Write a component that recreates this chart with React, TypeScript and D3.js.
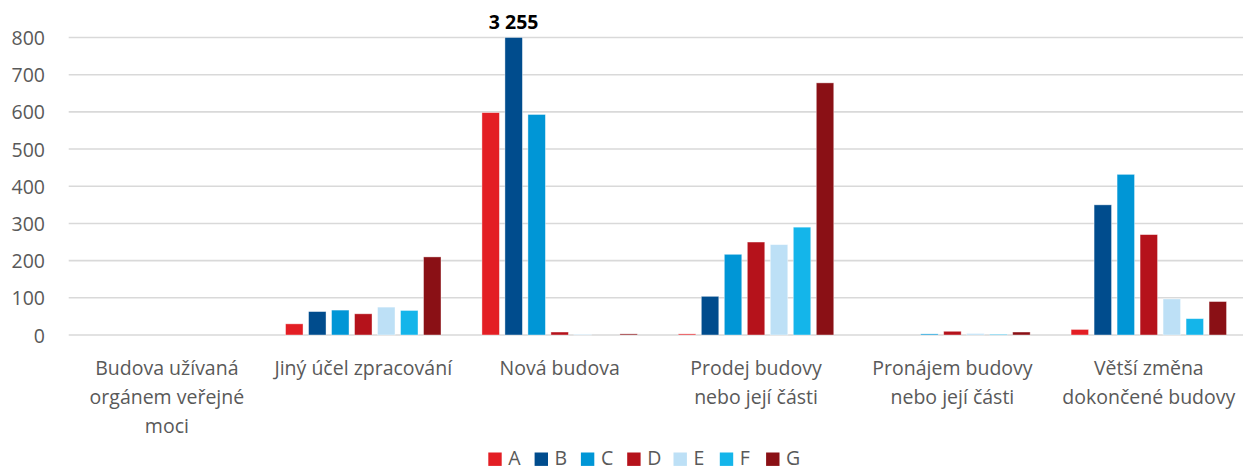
import React from "react";
import * as d3 from "d3";

const categories = [
  "Budova užívaná orgánem veřejné moci",
  "Jiný účel zpracování",
  "Nová budova",
  "Prodej budovy nebo její části",
  "Pronájem budovy nebo její části",
  "Větší změna dokončené budovy",
];
const categoryLines = [
  ["Budova užívaná", "orgánem veřejné", "moci"],
  ["Jiný účel zpracování"],
  ["Nová budova"],
  ["Prodej budovy", "nebo její části"],
  ["Pronájem budovy", "nebo její části"],
  ["Větší změna", "dokončené budovy"],
];
const seriesNames = ["A", "B", "C", "D", "E", "F", "G"];
const seriesColors = ["#E31E24", "#004C8D", "#0096D6", "#B5121B", "#BDE0F6", "#14B5EA", "#8A1015"];
const A = [0, 30, 598, 3, 0, 15];
const B = [0, 63, 3255, 104, 0, 350];
const C = [0, 67, 593, 217, 3, 432];
const D = [0, 57, 8, 250, 10, 270];
const E = [0, 75, 2, 243, 4, 97];
const F = [0, 66, 0, 290, 2, 44];
const G = [0, 210, 3, 678, 8, 90];
const seriesValues = [A, B, C, D, E, F, G];
const yTicks = [0, 100, 200, 300, 400, 500, 600, 700, 800];
const yMax = 800;

const W = 1243;
const H = 466;
const FONT = "'Open Sans', sans-serif";
const TXT = "#595959";

export default function App() {
  const x0 = d3.scaleBand<string>().domain(categories).range([68.7, 1247]).padding(0);
  const x1 = d3
    .scaleBand<string>()
    .domain(seriesNames)
    .range([0, x0.bandwidth()])
    .paddingInner(0.24)
    .paddingOuter(0.89);
  const y = d3.scaleLinear().domain([0, yMax]).range([335, 37.5]);

  const legendStep = 46.3;
  const legendX0 = 488.3;

  return (
    <svg
      width={W}
      height={H}
      style={{ position: "absolute", left: 0, top: 0, background: "#fff" }}
      fontFamily={FONT}
    >
      {yTicks.map((t) => (
        <g key={t}>
          <line x1={68.7} x2={1247} y1={y(t)} y2={y(t)} stroke="#D9D9D9" strokeWidth={1.6} />
          <text x={45} y={y(t)} textAnchor="end" dominantBaseline="central" fontSize={19.5} fill={TXT}>
            {t}
          </text>
        </g>
      ))}
      {categories.map((c, ci) => (
        <g key={c} transform={`translate(${x0(c)},0)`}>
          {seriesNames.map((s, si) => {
            const v = seriesValues[si][ci];
            if (v <= 0) return null;
            const vv = Math.min(v, yMax);
            const top = y(vv);
            return (
              <rect
                key={s}
                x={x1(s)}
                y={top}
                width={x1.bandwidth()}
                height={Math.max(y(0) - top, 0.8)}
                fill={seriesColors[si]}
                stroke="#fff"
                strokeOpacity={0.5}
                strokeWidth={0.8}
              />
            );
          })}
          {seriesNames.map((s, si) => {
            const v = seriesValues[si][ci];
            if (v <= yMax) return null;
            return (
              <text
                key={"l" + s}
                x={(x1(s) as number) + x1.bandwidth() / 2}
                y={29}
                textAnchor="middle"
                fontSize={19.5}
                fontWeight="bold"
                fill="#000"
              >
                {d3.format(",")(v).replace(/,/g, " ")}
              </text>
            );
          })}
          {categoryLines[ci].map((line, li) => (
            <text
              key={li}
              x={x0.bandwidth() / 2}
              y={375 + li * 28.8}
              textAnchor="middle"
              fontSize={19.5}
              fill={TXT}
            >
              {line}
            </text>
          ))}
        </g>
      ))}
      {seriesNames.map((s, si) => (
        <g key={s} transform={`translate(${legendX0 + si * legendStep},0)`}>
          <rect x={0} y={452.5} width={13.4} height={13.4} fill={seriesColors[si]} />
          <text x={20} y={465} fontSize={19.5} fill={TXT}>
            {s}
          </text>
        </g>
      ))}
    </svg>
  );
}
